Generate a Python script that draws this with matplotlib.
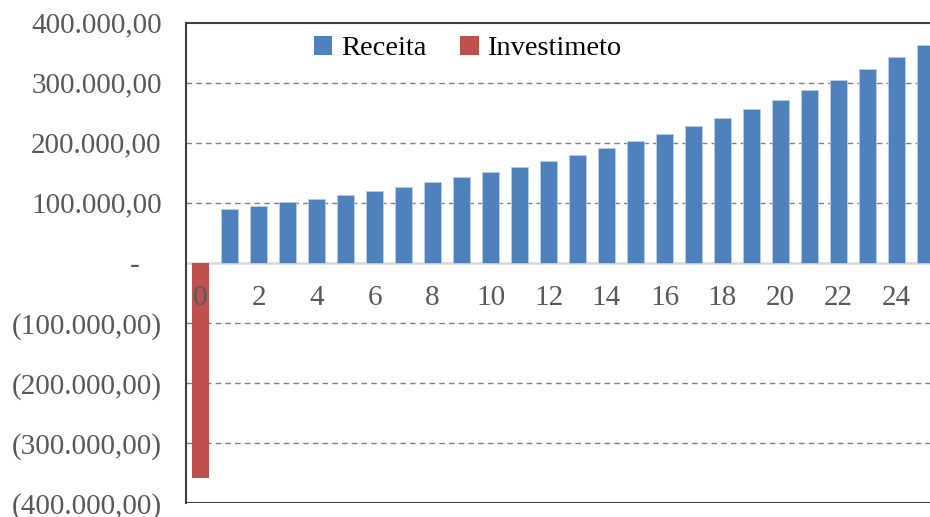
import matplotlib
matplotlib.use("Agg")
import matplotlib.pyplot as plt
from matplotlib.patches import Patch

periods = list(range(0, 26))
receita = [0, 89500, 94500, 101000, 106000, 112800, 119500, 126000, 134500, 142200,
           151000, 160000, 169500, 179500, 190600, 202300, 214500, 227300, 241200,
           256200, 271200, 287300, 304500, 322800, 342300, 362800]
investimento = [-358300] + [0] * 25
xtick_vals = list(range(0, 25, 2))
ytick_vals = [400000, 300000, 200000, 100000, 0, -100000, -200000, -300000, -400000]
ytick_labels = ["400.000,00", "300.000,00", "200.000,00", "100.000,00", "-   ",
                "(100.000,00)", "(200.000,00)", "(300.000,00)", "(400.000,00)"]

plt.rcParams['font.family'] = ['Liberation Serif', 'DejaVu Serif']

fig = plt.figure(figsize=(9.3, 5.17), dpi=100)
ax = fig.add_axes([186/930, 1 - 503/517, (940-186)/930, (503-22.7)/517])

blue = '#4f81bd'
red = '#c0504d'
w = 0.59
ax.bar(periods, receita, width=w, color=blue, edgecolor='#b9cde5', linewidth=0.6, zorder=2)
ax.bar(periods, investimento, width=w, color=red, zorder=2)

ax.set_xlim(-0.5, 25.5)
ax.set_ylim(-400000, 400000)

ax.set_yticks(ytick_vals)
ax.set_yticklabels(ytick_labels)
ax.tick_params(axis='y', length=0, pad=17.5, labelsize=21, labelcolor='#595959')

for v in [300000, 200000, 100000, -100000, -200000, -300000]:
    ax.axhline(v, color='#808080', linestyle=(0, (4, 3)), linewidth=1.0, zorder=1)
ax.axhline(-400000, color='#404040', linewidth=1.5, zorder=3)

ax.spines['bottom'].set_position(('data', 0))
ax.spines['bottom'].set_color('#d9d9d9')
ax.spines['bottom'].set_linewidth(1.8)
ax.spines['bottom'].set_zorder(1.5)
ax.spines['left'].set_color('#404040')
ax.spines['left'].set_linewidth(1.5)
ax.spines['top'].set_color('#404040')
ax.spines['top'].set_linewidth(1.5)
ax.spines['right'].set_visible(False)

ax.set_xticks(xtick_vals)
ax.set_xticklabels([str(v) for v in xtick_vals])
ax.tick_params(axis='x', length=0, pad=16, labelsize=21, labelcolor='#595959')
ax.xaxis.set_zorder(5)

handles = [Patch(facecolor=blue, label='Receita'), Patch(facecolor=red, label='Investimeto')]
fig.legend(handles=handles, loc='center', bbox_to_anchor=(0.503, 0.906), ncol=2,
           frameon=False, fontsize=20.5, handlelength=0.65, handleheight=0.65,
           handletextpad=0.3, columnspacing=1.2)

fig.savefig('out.png', dpi=100)
